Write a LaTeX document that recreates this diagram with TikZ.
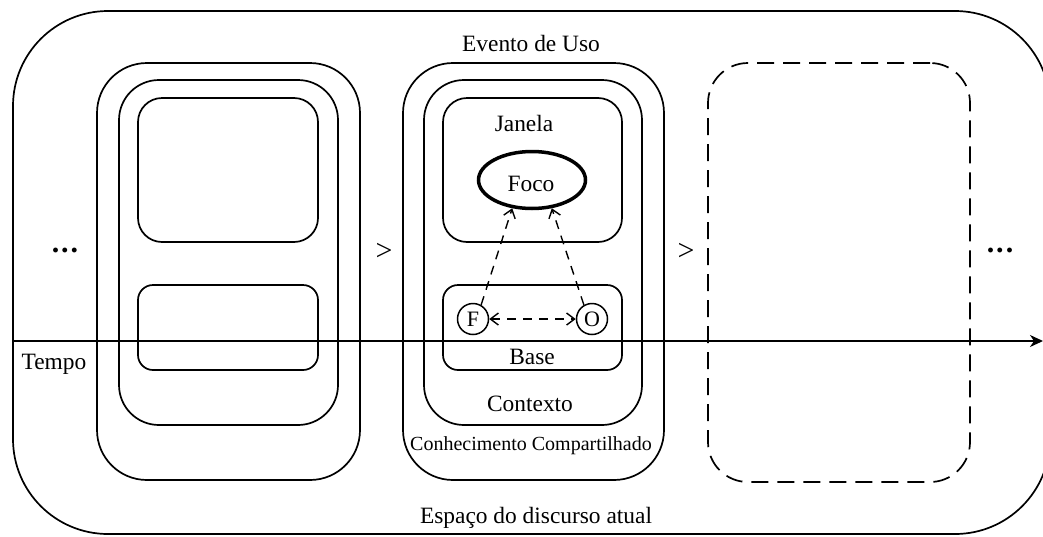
\documentclass[tikz,border=0pt]{standalone}
\usepackage{fontspec}
\setmainfont{Liberation Serif}
\usetikzlibrary{arrows.meta,shapes.geometric}
\begin{document}
\begin{tikzpicture}[x=1pt,y=-1pt,
  rbox/.style={draw, line width=1.7pt, inner sep=0pt, outer sep=0pt},
  dbox/.style={draw, line width=1.7pt, inner sep=0pt, outer sep=0pt, dash pattern=on 17pt off 9pt},
  lbl/.style={inner sep=0pt, text height=0.68em, text depth=0pt, font=\fontsize{23.4}{28}\selectfont},
  smalllbl/.style={inner sep=0pt, text height=0.68em, text depth=0pt, font=\fontsize{20}{24}\selectfont},
  bigsym/.style={inner sep=0pt, font=\fontsize{30}{34}\selectfont},
  letterc/.style={draw, circle, line width=1.5pt, minimum size=31pt, inner sep=0pt, font=\fontsize{22}{26}\selectfont},
  dasharrow/.style={line width=1.4pt, dash pattern=on 9pt off 7pt, -{Straight Barb[length=8pt,width=12pt,line width=1.4pt]}},
  dashboth/.style={line width=1.4pt, dash pattern=on 9pt off 7pt, {Straight Barb[length=8pt,width=12pt,line width=1.4pt]}-{Straight Barb[length=8pt,width=12pt,line width=1.4pt]}}
]
\useasboundingbox (0,0) rectangle (1043,536);
\fill[white] (0,0) rectangle (1043,536);

% outer discourse space
\node[rbox, rounded corners=95pt, minimum width=1037pt, minimum height=523pt] (space) at (531.5,272.5) {};

% left usage event
\node[rbox, rounded corners=50pt, minimum width=263pt, minimum height=417pt] (e1) at (228.5,271.5) {};
\node[rbox, rounded corners=40pt, minimum width=219pt, minimum height=345pt] (c1) at (228.5,252.5) {};
\node[rbox, rounded corners=24pt, minimum width=180pt, minimum height=144pt] (j1) at (228,170) {};
\node[rbox, rounded corners=15pt, minimum width=180pt, minimum height=85pt] (b1) at (228,327.5) {};

% middle usage event
\node[rbox, rounded corners=50pt, minimum width=261pt, minimum height=417pt] (e2) at (533.5,271.5) {};
\node[rbox, rounded corners=40pt, minimum width=218pt, minimum height=345pt] (c2) at (533,252.5) {};
\node[rbox, rounded corners=24pt, minimum width=179pt, minimum height=144pt] (j2) at (532.5,170) {};
\node[rbox, rounded corners=15pt, minimum width=179pt, minimum height=85pt] (b2) at (532.5,327.5) {};

% future event (dashed)
\node[dbox, rounded corners=40pt, minimum width=262pt, minimum height=419pt] (e3) at (839,272.5) {};

% time axis
\coordinate (t0) at (13,341);
\coordinate (t1) at (1043,341);
\draw[line width=1.5pt, -{Stealth[length=13pt,width=12pt,inset=4pt]}] (t0) -- (t1);

% focus and base
\node[draw, ellipse, line width=3.5pt, minimum width=107pt, minimum height=57pt, inner sep=0pt] (foco) at (532,180) {};
\node[lbl] (focotxt) at (531,188) {Foco};
\node[letterc] (F) at (473,319) {F};
\node[letterc] (O) at (592,319) {O};
\draw[dasharrow] (F.60) -- (foco.235);
\draw[dasharrow] (O.120) -- (foco.305);
\draw[dashboth] (F.east) -- (O.west);

% labels
\node[lbl] (evento) at (531,48) {Evento de Uso};
\node[lbl] (janela) at (524,128) {Janela};
\node[lbl] (base) at (532,361) {Base};
\node[lbl] (contexto) at (530,408) {Contexto};
\node[smalllbl] (conhec) at (531,447) {Conhecimento Compartilhado};
\node[lbl] (espaco) at (536,520) {Espaço do discurso atual};
\node[lbl] (tempo) at (54,366) {Tempo};
\node[bigsym] (gt1) at (384,252) {>};
\node[bigsym] (gt2) at (686,252) {>};
\node[bigsym] (dots1) at (65,250) {\bfseries .\kern2pt.\kern2pt.};
\node[bigsym] (dots2) at (1000,250) {\bfseries .\kern2pt.\kern2pt.};
\end{tikzpicture}
\end{document}
